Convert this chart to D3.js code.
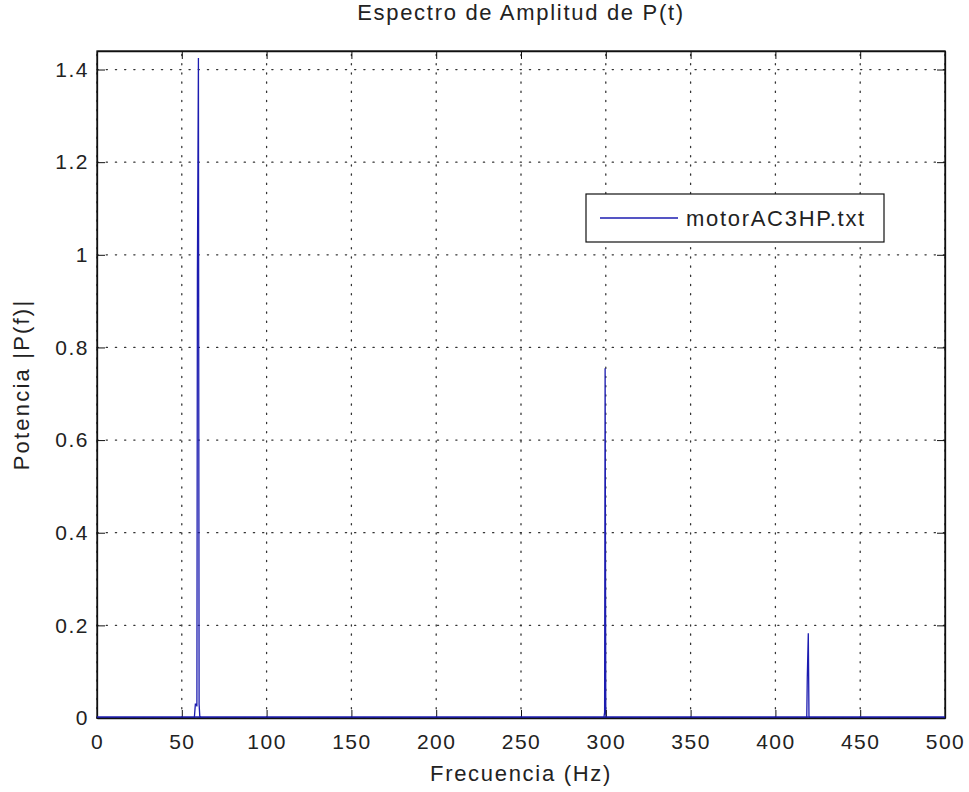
<!DOCTYPE html>
<html>
<head>
<meta charset="utf-8">
<script src="https://cdn.jsdelivr.net/npm/d3@7"></script>
<style>
  body { margin: 0; background: #ffffff; }
  svg text { font-family: "Liberation Sans", Arial, sans-serif; fill: #222; }
</style>
</head>
<body>
<div id="chart"></div>
<script>
// Spectrum data
const freqs = [0, 57.4, 58.0, 58.6, 58.9, 59.2, 59.8, 60.2, 60.6, 61.4,
               298.6, 299.0, 299.3, 299.6, 300.0, 300.4,
               418.2, 418.5, 418.8, 419.4, 419.8, 420.2, 500];
const amps  = [0, 0.001, 0.03, 0.03, 0.025, 0.96, 1.425, 0.03, 0.004, 0,
               0, 0.004, 0.012, 0.755, 0.008, 0,
               0, 0.003, 0.088, 0.183, 0.004, 0, 0];

const xTicks = [0, 50, 100, 150, 200, 250, 300, 350, 400, 450, 500];
const yTicks = [0, 0.2, 0.4, 0.6, 0.8, 1, 1.2, 1.4];
const seriesName = "motorAC3HP.txt";

const w = 969, h = 792;
const padLeft = 97, padRight = 945, padTop = 51, padBottom = 718;
const lineColor = "#1c1cb0";
const txtSpacing = "1.7px";

const svg = d3.select("#chart").append("svg")
  .attr("width", w).attr("height", h);

svg.append("rect").attr("width", w).attr("height", h).attr("fill", "#fff");

const xScale = d3.scaleLinear().domain([0, 500]).range([padLeft, padRight]);
const yScale = d3.scaleLinear().domain([0, 1.44]).range([padBottom, padTop]);

// grid (dotted)
const grid = svg.append("g").attr("stroke", "#333").attr("stroke-width", 1.3)
  .attr("stroke-dasharray", "1.2,8").attr("stroke-linecap", "round");
xTicks.forEach(t => {
  grid.append("line").attr("x1", xScale(t)).attr("x2", xScale(t))
    .attr("y1", padBottom).attr("y2", padTop);
});
yTicks.forEach(t => {
  grid.append("line").attr("y1", yScale(t)).attr("y2", yScale(t))
    .attr("x1", padLeft).attr("x2", padRight);
});

// data line
const line = d3.line().x((d, i) => xScale(freqs[i])).y(d => yScale(d));
svg.append("path").datum(amps)
  .attr("d", line)
  .attr("fill", "none")
  .attr("stroke", lineColor)
  .attr("stroke-width", 1.3);

// axes (MATLAB style: ticks inside, box all round)
const xAxis = d3.axisBottom(xScale).tickValues(xTicks).tickSizeInner(-8).tickSizeOuter(0).tickPadding(16);
const yAxis = d3.axisLeft(yScale).tickValues(yTicks).tickSizeInner(-8).tickSizeOuter(0).tickPadding(8)
  .tickFormat(d => d3.format("")(d));

function styleTicks(g) {
  g.selectAll("text").attr("font-size", 21).attr("font-family", "Liberation Sans, Arial")
    .attr("fill", "#222").style("letter-spacing", "1.5px");
}
svg.append("g").attr("transform", `translate(0,${padBottom})`).call(xAxis).call(styleTicks);
svg.append("g").attr("transform", `translate(${padLeft},0)`).call(yAxis).call(styleTicks);
svg.append("g").attr("transform", `translate(0,${padTop})`)
  .call(d3.axisTop(xScale).tickValues(xTicks).tickSizeInner(-8).tickSizeOuter(0).tickFormat(""));
svg.append("g").attr("transform", `translate(${padRight},0)`)
  .call(d3.axisRight(yScale).tickValues(yTicks).tickSizeInner(-8).tickSizeOuter(0).tickFormat(""));

svg.selectAll(".domain").attr("stroke", "#111").attr("stroke-width", 1.3);
svg.selectAll(".tick line").attr("stroke", "#111");

// box
svg.append("rect").attr("x", padLeft).attr("y", padTop)
  .attr("width", padRight - padLeft).attr("height", padBottom - padTop)
  .attr("fill", "none").attr("stroke", "#111").attr("stroke-width", 1.3);
// baseline of data over the axis
svg.append("line").attr("x1", padLeft).attr("x2", padRight)
  .attr("y1", yScale(0) - 1).attr("y2", yScale(0) - 1)
  .attr("stroke", lineColor).attr("stroke-width", 1.3);

// title and labels
svg.append("text").attr("x", (padLeft + padRight) / 2).attr("y", 20)
  .attr("text-anchor", "middle").attr("font-size", 22).style("letter-spacing", txtSpacing)
  .text("Espectro de Amplitud de P(t)");
svg.append("text").attr("x", (padLeft + padRight) / 2).attr("y", 781)
  .attr("text-anchor", "middle").attr("font-size", 22).style("letter-spacing", txtSpacing)
  .text("Frecuencia (Hz)");
svg.append("text").attr("transform", `translate(29,${(padTop + padBottom) / 2}) rotate(-90)`)
  .attr("text-anchor", "middle").attr("font-size", 22).style("letter-spacing", "2.2px")
  .text("Potencia |P(f)|");

// legend
const lg = svg.append("g");
lg.append("rect").attr("x", 586).attr("y", 194).attr("width", 298).attr("height", 48)
  .attr("fill", "#fff").attr("stroke", "#111").attr("stroke-width", 1.2);
lg.append("line").attr("x1", 600).attr("x2", 678).attr("y1", 218).attr("y2", 218)
  .attr("stroke", lineColor).attr("stroke-width", 1.3);
lg.append("text").attr("x", 686).attr("y", 226).attr("font-size", 22).style("letter-spacing", txtSpacing)
  .text(seriesName);
</script>
</body>
</html>
